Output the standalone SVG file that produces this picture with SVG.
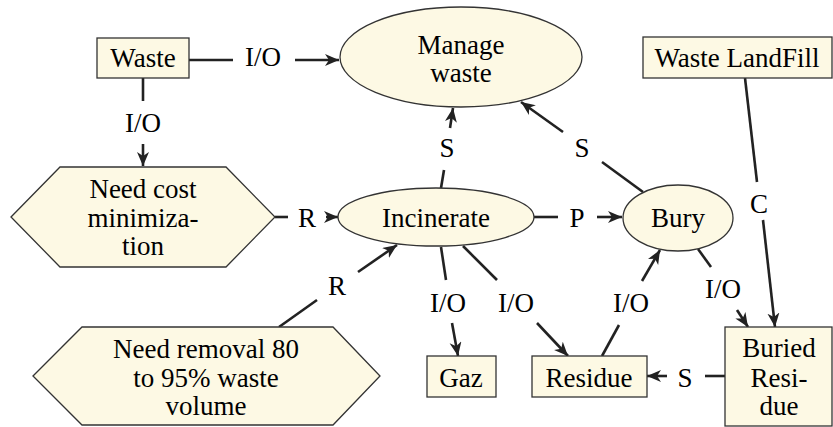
<svg xmlns="http://www.w3.org/2000/svg" width="833" height="427" viewBox="0 0 833 427">
<defs>
<marker id="ah" markerUnits="userSpaceOnUse" markerWidth="16" markerHeight="14" refX="14" refY="6" orient="auto" viewBox="0 0 16 14">
<path d="M0,0 L14,6 L0,12 L4,6 z" fill="#222"/>
</marker>
</defs>
<rect width="833" height="427" fill="#fff"/>
<g id="connectors" fill="none" stroke="#222" stroke-width="2.6">
<line x1="189" y1="60" x2="233" y2="60"/><line marker-end="url(#ah)" x1="295" y1="60" x2="339" y2="60"/>
<line x1="143" y1="78" x2="143" y2="101"/><line marker-end="url(#ah)" x1="143" y1="144" x2="143" y2="166"/>
<line x1="275" y1="217" x2="288" y2="217"/><line marker-end="url(#ah)" x1="326" y1="217" x2="338" y2="217"/>
<line x1="534" y1="217" x2="558" y2="217"/><line marker-end="url(#ah)" x1="597" y1="217" x2="622" y2="217"/>
<line x1="441" y1="188" x2="444" y2="170"/><line marker-end="url(#ah)" x1="450" y1="128" x2="453" y2="108"/>
<line x1="643" y1="192" x2="602" y2="162"/><line marker-end="url(#ah)" x1="563" y1="132" x2="521" y2="102"/>
<line x1="745" y1="78" x2="757" y2="182"/><line marker-end="url(#ah)" x1="763" y1="220" x2="775" y2="327"/>
<line x1="441" y1="247" x2="446" y2="280"/><line marker-end="url(#ah)" x1="452" y1="323" x2="458" y2="356"/>
<line x1="463" y1="246" x2="497" y2="280"/><line marker-end="url(#ah)" x1="537" y1="323" x2="568" y2="356"/>
<line x1="602" y1="356" x2="619" y2="325"/><line marker-end="url(#ah)" x1="642" y1="281" x2="660" y2="250"/>
<line x1="698" y1="249" x2="711" y2="267"/><line marker-end="url(#ah)" x1="737" y1="310" x2="748" y2="327"/>
<line x1="725" y1="376" x2="705" y2="376"/><line marker-end="url(#ah)" x1="667" y1="376" x2="647" y2="376"/>
<line x1="279" y1="327" x2="317" y2="300"/><line marker-end="url(#ah)" x1="358" y1="272" x2="397" y2="245"/>
</g>
<g id="connector-labels">
<text x="263" y="66" font-family="Liberation Serif" font-size="27" text-anchor="middle">I/O</text>
<text x="143" y="132" font-family="Liberation Serif" font-size="27" text-anchor="middle">I/O</text>
<text x="307" y="227" font-family="Liberation Serif" font-size="27" text-anchor="middle">R</text>
<text x="577" y="227" font-family="Liberation Serif" font-size="27" text-anchor="middle">P</text>
<text x="447" y="157" font-family="Liberation Serif" font-size="27" text-anchor="middle">S</text>
<text x="582" y="157" font-family="Liberation Serif" font-size="27" text-anchor="middle">S</text>
<text x="759" y="213" font-family="Liberation Serif" font-size="27" text-anchor="middle">C</text>
<text x="448" y="312" font-family="Liberation Serif" font-size="27" text-anchor="middle">I/O</text>
<text x="516" y="312" font-family="Liberation Serif" font-size="27" text-anchor="middle">I/O</text>
<text x="631" y="312" font-family="Liberation Serif" font-size="27" text-anchor="middle">I/O</text>
<text x="723" y="298" font-family="Liberation Serif" font-size="27" text-anchor="middle">I/O</text>
<text x="685" y="387" font-family="Liberation Serif" font-size="27" text-anchor="middle">S</text>
<text x="337" y="295" font-family="Liberation Serif" font-size="27" text-anchor="middle">R</text>
</g>
<g id="waste"><rect fill="#fdf9e4" stroke="#333" stroke-width="1.3" x="97" y="38" width="92" height="40"/><text x="143" y="67" font-family="Liberation Serif" font-size="27" text-anchor="middle">Waste</text></g>
<g id="manage-waste"><ellipse fill="#fdf9e4" stroke="#333" stroke-width="1.3" cx="461" cy="57" rx="121" ry="50"/><text x="461" y="54" font-family="Liberation Serif" font-size="27" text-anchor="middle">Manage</text><text x="461" y="82" font-family="Liberation Serif" font-size="27" text-anchor="middle">waste</text></g>
<g id="waste-landfill"><rect fill="#fdf9e4" stroke="#333" stroke-width="1.3" x="643" y="37" width="189" height="41"/><text x="737" y="67" font-family="Liberation Serif" font-size="27" text-anchor="middle">Waste LandFill</text></g>
<g id="need-cost"><polygon fill="#fdf9e4" stroke="#333" stroke-width="1.3" points="11,217 60,167 226,167 275,217 226,267 60,267"/><text x="143" y="198" font-family="Liberation Serif" font-size="27" text-anchor="middle">Need cost</text><text x="143" y="227" font-family="Liberation Serif" font-size="27" text-anchor="middle">minimiza-</text><text x="143" y="255" font-family="Liberation Serif" font-size="27" text-anchor="middle">tion</text></g>
<g id="incinerate"><ellipse fill="#fdf9e4" stroke="#333" stroke-width="1.3" cx="436" cy="217" rx="98" ry="29"/><text x="436" y="227" font-family="Liberation Serif" font-size="27" text-anchor="middle">Incinerate</text></g>
<g id="bury"><ellipse fill="#fdf9e4" stroke="#333" stroke-width="1.3" cx="678" cy="218" rx="55" ry="33"/><text x="678" y="227" font-family="Liberation Serif" font-size="27" text-anchor="middle">Bury</text></g>
<g id="need-removal"><polygon fill="#fdf9e4" stroke="#333" stroke-width="1.3" points="33,376 82,327 333,327 380,376 333,425 82,425"/><text x="206" y="358" font-family="Liberation Serif" font-size="27" text-anchor="middle">Need removal 80</text><text x="206" y="387" font-family="Liberation Serif" font-size="27" text-anchor="middle">to 95% waste</text><text x="206" y="415" font-family="Liberation Serif" font-size="27" text-anchor="middle">volume</text></g>
<g id="gaz"><rect fill="#fdf9e4" stroke="#333" stroke-width="1.3" x="427" y="356" width="69" height="41"/><text x="461" y="387" font-family="Liberation Serif" font-size="27" text-anchor="middle">Gaz</text></g>
<g id="residue"><rect fill="#fdf9e4" stroke="#333" stroke-width="1.3" x="532" y="356" width="115" height="41"/><text x="589" y="387" font-family="Liberation Serif" font-size="27" text-anchor="middle">Residue</text></g>
<g id="buried-residue"><rect fill="#fdf9e4" stroke="#333" stroke-width="1.3" x="725" y="327" width="107" height="99"/><text x="779" y="357" font-family="Liberation Serif" font-size="27" text-anchor="middle">Buried</text><text x="779" y="387" font-family="Liberation Serif" font-size="27" text-anchor="middle">Resi-</text><text x="779" y="415" font-family="Liberation Serif" font-size="27" text-anchor="middle">due</text></g>
</svg>
